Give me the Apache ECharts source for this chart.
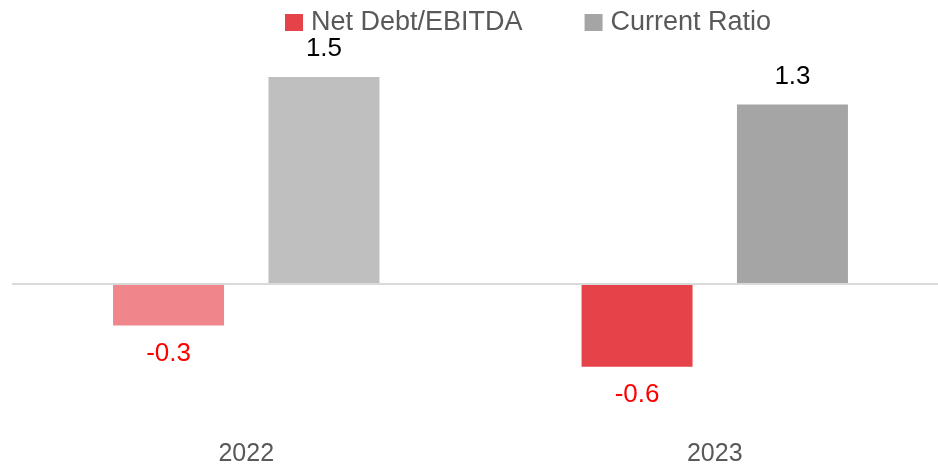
<!DOCTYPE html>
<html>
<head>
<meta charset="utf-8">
<title>Net Debt/EBITDA and Current Ratio</title>
<script src="https://cdn.jsdelivr.net/npm/echarts@6/dist/echarts.min.js"></script>
<style>
  html, body { margin: 0; padding: 0; background: #ffffff; }
  #chart { width: 938px; height: 469px; }
</style>
</head>
<body>
<div id="chart"></div>
<script>
// Fiscal years on the category axis
const years = ['2022', '2023'];

// Series values (x)
const netDebtEbitda = [-0.3, -0.6];
const currentRatio = [1.5, 1.3];

// Per-year bar shades
const netDebtColors = ['#F0868C', '#E64249'];
const currentRatioColors = ['#BFBFBF', '#A5A5A5'];

const FONT = 'Liberation Sans, Arial, sans-serif';

function coloredData(values, colors) {
  return values.map((v, i) => ({ value: v, itemStyle: { color: colors[i] } }));
}

const chart = echarts.init(document.getElementById('chart'));

chart.setOption({
  animation: false,
  backgroundColor: '#ffffff',
  legend: {
    left: 280,
    top: 4,
    icon: 'rect',
    itemWidth: 18,
    itemHeight: 17,
    itemGap: 62,
    textStyle: {
      fontFamily: FONT,
      fontSize: 27,
      color: '#595959',
      padding: [0, 0, 0, 3]
    },
    data: ['Net Debt/EBITDA', 'Current Ratio']
  },
  grid: {
    left: 12,
    width: 937,
    top: 8,
    height: 414,
    containLabel: false,
    outerBoundsMode: 'none'
  },
  xAxis: {
    type: 'category',
    data: years,
    axisLine: { show: false },
    axisTick: { show: false },
    axisLabel: {
      margin: 20,
      fontFamily: FONT,
      fontSize: 25,
      color: '#595959'
    }
  },
  yAxis: {
    type: 'value',
    min: -1,
    max: 2,
    show: false,
    splitLine: { show: false }
  },
  series: [
    {
      name: 'Net Debt/EBITDA',
      type: 'bar',
      barWidth: 111,
      barGap: '40%',
      itemStyle: { color: '#E64249' },
      data: coloredData(netDebtEbitda, netDebtColors),
      label: {
        show: true,
        position: 'bottom',
        distance: 15,
        fontFamily: FONT,
        fontSize: 26,
        color: '#FF0000',
        formatter: p => p.value.toFixed(1)
      },
      markLine: {
        silent: true,
        symbol: 'none',
        label: { show: false },
        lineStyle: { color: '#D9D9D9', width: 2, type: 'solid' },
        data: [{ yAxis: 0 }]
      }
    },
    {
      name: 'Current Ratio',
      type: 'bar',
      barWidth: 111,
      barGap: '40%',
      itemStyle: { color: '#A5A5A5' },
      data: coloredData(currentRatio, currentRatioColors),
      label: {
        show: true,
        position: 'top',
        distance: 15,
        fontFamily: FONT,
        fontSize: 26,
        color: '#000000',
        formatter: p => p.value.toFixed(1)
      }
    }
  ]
});
</script>
</body>
</html>
